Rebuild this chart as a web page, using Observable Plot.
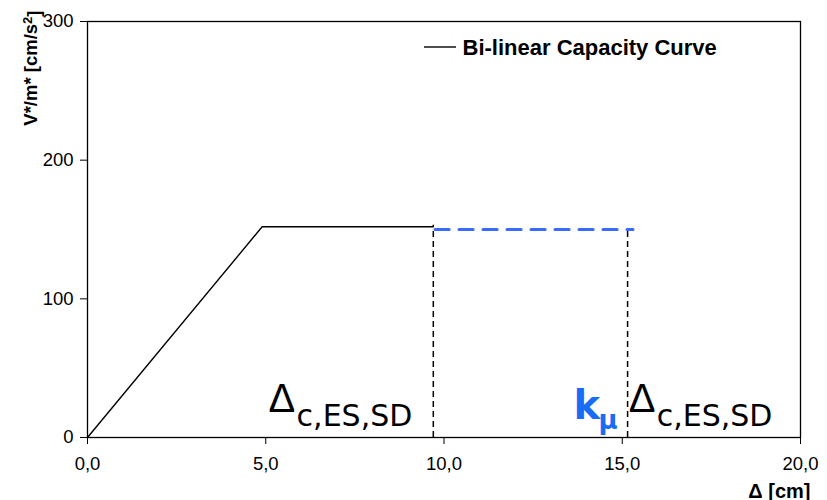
<!DOCTYPE html>
<html><head><meta charset="utf-8">
<script src="https://cdn.jsdelivr.net/npm/d3@7"></script>
<script src="https://cdn.jsdelivr.net/npm/@observablehq/plot@0.6"></script>
<style>body{margin:0;background:#fff}#chart svg{overflow:visible}</style>
</head><body><div id="chart"></div>
<script>
const curveX = [0, 4.9, 9.7];
const curveY = [0, 152, 152];
const demandX = [9.75, 15.3];
const demandY = [150, 150];
const markerX = [9.7, 15.15];
const markerTop = [153, 151];
const xTicks = [0, 5, 10, 15, 20];
const yTicks = [0, 100, 200, 300];
const legendLabel = "Bi-linear Capacity Curve";
const xLabel = "Δ [cm]";
const yLabelMain = "V*/m* [cm/s";
const yLabelSup = "2";
const yLabelEnd = "]";
const annotX = [5.08, 15.18];
const annotY = [18.5, 18.5];
const kX = [13.63];
const kY = [13.5];

const curve = curveX.map((x, i) => ({x, y: curveY[i]}));
const demand = demandX.map((x, i) => ({x, y: demandY[i]}));
const markers = markerX.map((x, i) => ({x, top: markerTop[i]}));
const annots = annotX.map((x, i) => ({x, y: annotY[i]}));
const kpts = kX.map((x, i) => ({x, y: kY[i]}));

const font = "'Liberation Sans', Arial, sans-serif";
const chart = Plot.plot({
  width: 827, height: 500,
  marginLeft: 87, marginRight: 27, marginTop: 21, marginBottom: 63,
  style: {fontFamily: font, fontSize: "18px", color: "black", background: "white"},
  x: {domain: [0, 20]},
  y: {domain: [0, 300]},
  marks: [
    Plot.frame({stroke: "black", strokeWidth: 1.3}),
    Plot.axisX({ticks: xTicks, tickSize: 7, tickPadding: 12, tickFormat: d => d.toFixed(1).replace(".", ","), label: null, fontSize: 18.5}),
    Plot.axisY({ticks: yTicks, tickSize: 7, tickPadding: 7, tickFormat: d => String(d), label: null, fontSize: 18.5}),
    Plot.line(curve, {x: "x", y: "y", stroke: "black", strokeWidth: 1.4}),
    Plot.ruleX(markers, {x: "x", y1: 0, y2: "top", stroke: "black", strokeWidth: 1.5, strokeDasharray: "6,4"}),
    Plot.line(demand, {x: "x", y: "y", stroke: "#3a6bff", strokeWidth: 3.2, strokeDasharray: "14,10"}),
    Plot.text(annots, {x: "x", y: "y", text: () => "Δ", textAnchor: "start", lineAnchor: "bottom", fontSize: 40, fill: "black", fontFamily: font}),
    Plot.text(annots, {x: "x", y: "y", text: () => "c,ES,SD", textAnchor: "start", lineAnchor: "bottom", dx: 28, dy: 14, fontSize: 30, fill: "black", fontFamily: "'DejaVu Sans', sans-serif", letterSpacing: "1.3px"}),
    Plot.text(kpts, {x: "x", y: "y", text: () => "k", textAnchor: "start", lineAnchor: "bottom", fontSize: 40, fontWeight: "bold", fill: "#1a6cf5", fontFamily: "'DejaVu Sans', sans-serif"}),
    Plot.text(kpts, {x: "x", y: "y", text: () => "μ", textAnchor: "start", lineAnchor: "bottom", dx: 25, dy: 10, fontSize: 26, fontWeight: "bold", fill: "#1a6cf5", fontFamily: "'DejaVu Sans', sans-serif"}),
    Plot.text([yLabelMain], {frameAnchor: "top-left", text: d => d, rotate: -90, textAnchor: "end", lineAnchor: "middle", dx: -56, dy: -11, fontSize: 18.5, fontWeight: "bold", className: "ylab"}),
    Plot.text([xLabel], {frameAnchor: "bottom-right", text: d => d, textAnchor: "end", lineAnchor: "bottom", dx: 10, dy: 60, fontSize: 20, fontWeight: "bold"}),
    Plot.text([legendLabel], {frameAnchor: "top-left", text: d => d, textAnchor: "start", lineAnchor: "middle", dx: 375, dy: 26, fontSize: 22, fontWeight: "bold"})
  ]
});
const svg = d3.select(chart);
// superscript on the y label
svg.selectAll("g.ylab text").each(function() {
  const t = d3.select(this);
  t.text(null);
  t.append("tspan").text(yLabelMain);
  t.append("tspan").attr("dy", "-0.45em").attr("font-size", "0.7em").text(yLabelSup);
  t.append("tspan").attr("dy", "0.45em").text(yLabelEnd);
});
svg.append("line").attr("x1", 424).attr("x2", 456).attr("y1", 47).attr("y2", 47)
  .attr("stroke", "black").attr("stroke-width", 1.4);
document.getElementById("chart").append(chart);
</script>
</body></html>
